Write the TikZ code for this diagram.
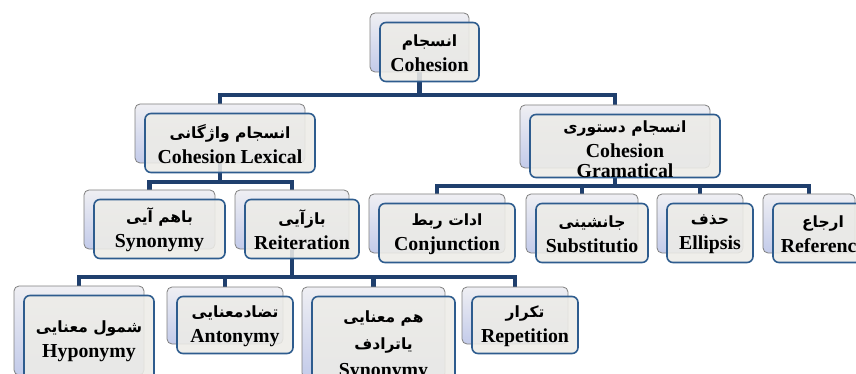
\documentclass[tikz,border=0pt]{standalone}
\usepackage{fontspec}
\setmainfont{Liberation Serif}
\newfontfamily\fa[Script=Arabic]{DejaVu Sans}
\TeXXeTstate=1
\usetikzlibrary{fit,backgrounds}
\definecolor{conncol}{HTML}{1F3F6D}
\definecolor{frontdraw}{HTML}{2E5C8E}
\definecolor{frontfill}{HTML}{EDECE7}
\definecolor{backtop}{HTML}{EFEFF3}
\definecolor{backbot}{HTML}{C3CBEA}
\definecolor{backdraw}{HTML}{7F7F7F}
\tikzset{
  backbox/.style={draw=backdraw, line width=0.8pt, rounded corners=5pt, top color=backtop, bottom color=backbot, inner sep=0pt},
  frontbox/.style={draw=frontdraw, line width=1.6pt, rounded corners=6pt, fill=frontfill, fill opacity=0.88, inner sep=0pt},
  txt/.style={align=center, font=\bfseries\fontsize{19.8}{25}\selectfont, inner sep=0pt},
  conn/.style={draw=conncol, line width=4.2pt},
}
\newcommand\fal[1]{{\fa\bfseries\fontsize{15.5}{25}\selectfont\beginR #1\endR}}
\newcommand\diabox[7]{%
  \node[backbox, fit={(#2,#3) (#4,#5)}] (#1B) {};
  \node[frontbox, fit={(#2+10,#3+9.5) (#4+10,#5+9.5)}] (#1) {};
  \node[txt, #7] (#1T) at (#1.center) {#6};
}
\begin{document}
\begin{tikzpicture}[x=1pt,y=-1pt]
\useasboundingbox (0,0) rectangle (856,374);
\clip (0,0) rectangle (856,374);
\diabox{coh}{370}{13}{469}{72}{\fal{انسجام}\\ Cohesion}{yshift=-1pt}
\diabox{lex}{135}{104}{305}{163}{\fal{انسجام واژگانی}\\ Cohesion Lexical}{yshift=-1pt}
\diabox{gram}{520}{105}{710}{168}{\fal{انسجام دستوری}\\ Cohesion\\[-5pt] Gramatical}{yshift=-3pt}
\diabox{syn}{84}{190}{215}{249}{\fal{باهم آیی}\\ Synonymy}{yshift=-1pt}
\diabox{rei}{235}{190}{349}{249}{\fal{بازآیی}\\ Reiteration}{yshift=-1pt}
\diabox{conj}{369}{194}{505}{253}{\fal{ادات ربط}\\ Conjunction}{yshift=-1pt}
\diabox{subs}{526}{194}{638}{253}{\fal{جانشینی}\\ Substitutio}{yshift=-1pt}
\diabox{ell}{657}{194}{743}{253}{\fal{حذف}\\ Ellipsis}{yshift=-1pt}
\diabox{ref}{763}{194}{855}{253}{\fal{ارجاع}\\ Reference}{xshift=4pt, yshift=-1pt}
\diabox{hyp}{14}{286}{144}{375}{\fal{شمول معنایی}\\ Hyponymy}{yshift=-1pt}
\diabox{ant}{167}{287}{283}{344}{\fal{تضادمعنایی}\\ Antonymy}{yshift=-1pt}
\diabox{synt}{302}{287}{445}{378}{\fal{هم معنایی}\\[2pt] \fal{یاترادف}\\[2pt] Synonymy}{yshift=-4pt}
\diabox{rep}{462}{287}{568}{344}{\fal{تکرار}\\ Repetition}{yshift=-1pt}
\begin{pgfonlayer}{background}
\draw[conn] (lexB.north) |- (cohB.center |- 0,95) -- (cohB.center);
\draw[conn] (gramB.north) |- (cohB.center |- 0,95);
\draw[conn] (synB.north) |- (lexB.center |- 0,182) -- (lexB.center);
\draw[conn] (reiB.north) |- (lexB.center |- 0,182);
\draw[conn] (conjB.north) |- (gramB.center |- 0,186) -- (gramB.center);
\draw[conn] (subsB.north) -- (subsB.north |- 0,186);
\draw[conn] (ellB.north) -- (ellB.north |- 0,186);
\draw[conn] (refB.north) |- (gramB.center |- 0,186);
\draw[conn] (hypB.north) |- (reiB.center |- 0,277) -- (reiB.center);
\draw[conn] (antB.north) -- (antB.north |- 0,277);
\draw[conn] (syntB.north) -- (syntB.north |- 0,277);
\draw[conn] (repB.north) |- (reiB.center |- 0,277);
\end{pgfonlayer}
\end{tikzpicture}
\end{document}
